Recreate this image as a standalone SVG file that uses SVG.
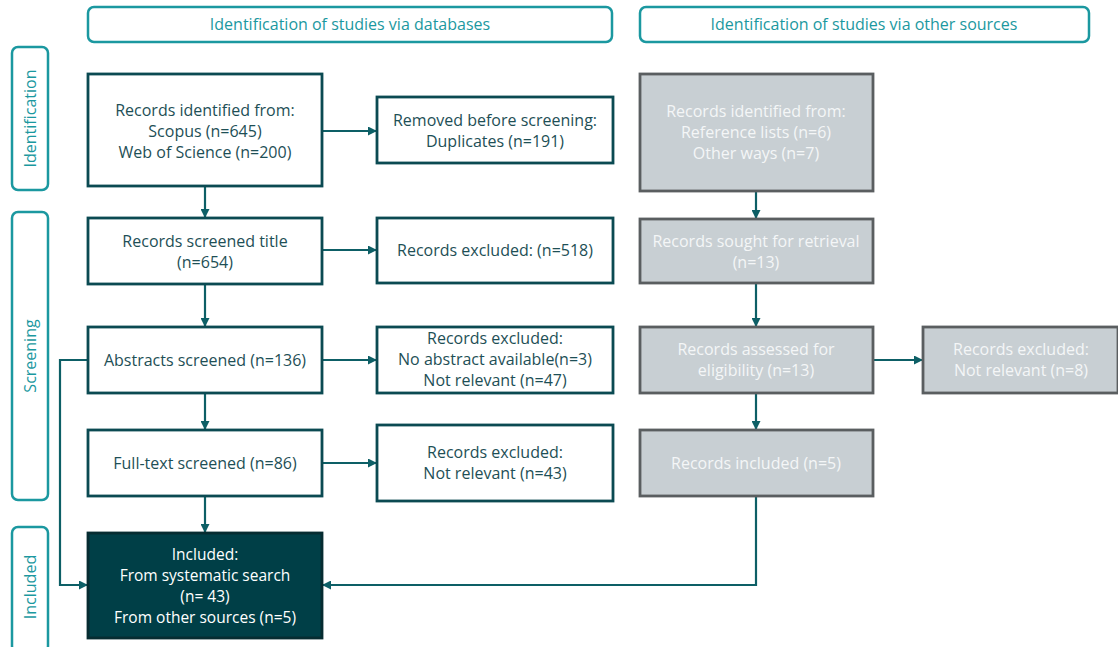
<svg xmlns="http://www.w3.org/2000/svg" width="1118" height="647" viewBox="0 0 1118 647">
<style>
.hdr{fill:#fff;stroke:#1b98a0;stroke-width:2.5}
.hdrt{fill:#1b98a0;font-family:"Open Sans","Noto Sans",sans-serif;font-size:16px;text-anchor:middle}
.node{fill:#fff;stroke:#0b4a52;stroke-width:2.8}
.gray{fill:#c8cfd3;stroke:#5a5e60;stroke-width:2.8}
.dark{fill:#003f47;stroke:#062c31;stroke-width:2.8}
.t{fill:#1e4f56;font-family:"Open Sans","Noto Sans",sans-serif;font-size:16px;text-anchor:middle}
.tg{fill:#f4f6f7;font-family:"Open Sans","Noto Sans",sans-serif;font-size:16px;text-anchor:middle}
.tw{fill:#ffffff;font-family:"Open Sans","Noto Sans",sans-serif;font-size:15.5px;text-anchor:middle}
.c{fill:none;stroke:#0d5f66;stroke-width:2.2}
</style>
<defs>
<marker id="ah" viewBox="0 0 10 10" refX="10" refY="5" markerWidth="9" markerHeight="9" markerUnits="userSpaceOnUse" orient="auto">
<path d="M0,0 L10,5 L0,10 z" fill="#0d5f66"/>
</marker>
</defs>

<g id="hdr-databases"><rect class="hdr" x="88" y="7" width="524" height="35" rx="6"/><text class="hdrt" x="350" y="30">Identification of studies via databases</text></g>
<g id="hdr-other"><rect class="hdr" x="640" y="7" width="449" height="35" rx="6"/><text class="hdrt" x="864" y="30">Identification of studies via other sources</text></g>

<g id="side-identification"><rect class="hdr" x="12" y="47" width="36" height="143" rx="6"/><text class="hdrt" transform="translate(36,118.5) rotate(-90)">Identification</text></g>
<g id="side-screening"><rect class="hdr" x="12" y="212" width="36" height="288" rx="6"/><text class="hdrt" transform="translate(36,356) rotate(-90)">Screening</text></g>
<g id="side-included"><rect class="hdr" x="12" y="527" width="36" height="125" rx="6"/><text class="hdrt" transform="translate(36,587) rotate(-90)">Included</text></g>

<g id="connectors">
<line class="c" x1="205" y1="186" x2="205" y2="218" marker-end="url(#ah)"/>
<line class="c" x1="322" y1="131" x2="377" y2="131" marker-end="url(#ah)"/>
<line class="c" x1="322" y1="250" x2="377" y2="250" marker-end="url(#ah)"/>
<line class="c" x1="205" y1="284" x2="205" y2="327" marker-end="url(#ah)"/>
<line class="c" x1="322" y1="360" x2="377" y2="360" marker-end="url(#ah)"/>
<line class="c" x1="205" y1="393" x2="205" y2="430" marker-end="url(#ah)"/>
<line class="c" x1="322" y1="463" x2="377" y2="463" marker-end="url(#ah)"/>
<line class="c" x1="205" y1="496" x2="205" y2="533" marker-end="url(#ah)"/>
<polyline class="c" points="88,360 60,360 60,585 88,585" marker-end="url(#ah)"/>
<line class="c" x1="756" y1="191" x2="756" y2="219" marker-end="url(#ah)"/>
<line class="c" x1="756" y1="283" x2="756" y2="327" marker-end="url(#ah)"/>
<line class="c" x1="873" y1="360" x2="923" y2="360" marker-end="url(#ah)"/>
<line class="c" x1="756" y1="393" x2="756" y2="430" marker-end="url(#ah)"/>
<polyline class="c" points="756,496 756,585 322,585" marker-end="url(#ah)"/>
</g>

<g id="n-identified"><rect class="node" x="88" y="74" width="234" height="112"/>
<text class="t" x="205" y="116">Records identified from:</text>
<text class="t" x="205" y="137">Scopus (n=645)</text>
<text class="t" x="205" y="158">Web of Science (n=200)</text></g>

<g id="n-removed"><rect class="node" x="377" y="97" width="236" height="66"/>
<text class="t" x="495" y="126">Removed before screening:</text>
<text class="t" x="495" y="147">Duplicates (n=191)</text></g>

<g id="n-title"><rect class="node" x="88" y="218" width="234" height="66"/>
<text class="t" x="205" y="247">Records screened title</text>
<text class="t" x="205" y="268">(n=654)</text></g>

<g id="n-excl518"><rect class="node" x="377" y="218" width="236" height="65"/>
<text class="t" x="495" y="256">Records excluded: (n=518)</text></g>

<g id="n-abstracts"><rect class="node" x="88" y="327" width="234" height="66"/>
<text class="t" x="205" y="366">Abstracts screened (n=136)</text></g>

<g id="n-excl-abs"><rect class="node" x="377" y="327" width="236" height="66"/>
<text class="t" x="495" y="344">Records excluded:</text>
<text class="t" x="495" y="365">No abstract available(n=3)</text>
<text class="t" x="495" y="386">Not relevant (n=47)</text></g>

<g id="n-fulltext"><rect class="node" x="88" y="430" width="234" height="66"/>
<text class="t" x="205" y="469">Full-text screened (n=86)</text></g>

<g id="n-excl43"><rect class="node" x="377" y="425" width="236" height="76"/>
<text class="t" x="495" y="458">Records excluded:</text>
<text class="t" x="495" y="479">Not relevant (n=43)</text></g>

<g id="n-included"><rect class="dark" x="88" y="533" width="234" height="105"/>
<text class="tw" x="205" y="560">Included:</text>
<text class="tw" x="205" y="581">From systematic search</text>
<text class="tw" x="205" y="602">(n= 43)</text>
<text class="tw" x="205" y="623">From other sources (n=5)</text></g>

<g id="g-identified"><rect class="gray" x="640" y="74" width="233" height="117"/>
<text class="tg" x="756" y="117">Records identified from:</text>
<text class="tg" x="756" y="138">Reference lists (n=6)</text>
<text class="tg" x="756" y="159">Other ways (n=7)</text></g>

<g id="g-sought"><rect class="gray" x="640" y="219" width="233" height="64"/>
<text class="tg" x="756" y="247">Records sought for retrieval</text>
<text class="tg" x="756" y="268">(n=13)</text></g>

<g id="g-assessed"><rect class="gray" x="640" y="327" width="233" height="66"/>
<text class="tg" x="756" y="355">Records assessed for</text>
<text class="tg" x="756" y="376">eligibility (n=13)</text></g>

<g id="g-excluded"><rect class="gray" x="923" y="327" width="195" height="66"/>
<text class="tg" x="1021" y="355">Records excluded:</text>
<text class="tg" x="1021" y="376">Not relevant (n=8)</text></g>

<g id="g-included"><rect class="gray" x="640" y="430" width="233" height="66"/>
<text class="tg" x="756" y="469">Records included (n=5)</text></g>
</svg>
